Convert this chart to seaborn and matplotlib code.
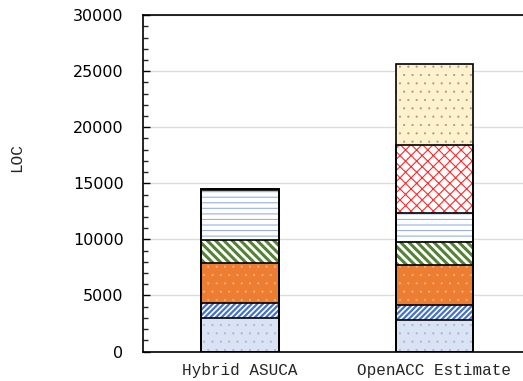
import matplotlib
matplotlib.use("Agg")
import matplotlib.pyplot as plt
from matplotlib.ticker import MultipleLocator
import numpy as np
import pandas as pd
import seaborn as sns

programs = ["Hybrid ASUCA", "OpenACC Estimate"]

# lines of code per component, bottom to top of each stack
base_loc = [3000, 2770]
blue_diag_loc = [1350, 1400]
orange_loc = [3550, 3510]
green_diag_loc = [2050, 2080]
dashed_loc = [4450, 2590]
red_lattice_loc = [80, 6050]
beige_loc = [0, 7200]

yticks = [0, 5000, 10000, 15000, 20000, 25000, 30000]

# (values, facecolor, hatch, hatch colour, hatch linewidth)
layers = [
    (base_loc, "#dae3f3", "..", "#9fb5e0", 0.3),
    (blue_diag_loc, "white", "//////", "#4472c4", 1.6),
    (orange_loc, "#ed7d31", "..", "#f4b086", 0.3),
    (green_diag_loc, "white", "\\\\\\\\", "#548235", 2.2),
    (dashed_loc, "white", "---", "#9ab0e0", 0.8),
    (red_lattice_loc, "white", "xxx", "#ff2a2a", 0.8),
    (beige_loc, "#fff2cc", "..", "#a8997a", 0.3),
]

sns.set_style("ticks")
plt.rcParams["font.family"] = ["DejaVu Sans"]

fig = plt.figure(figsize=(5.23, 3.81), dpi=100)
ax = fig.add_axes([0.2734, 0.0774, 0.743, 0.883])

stack = np.cumsum([l[0] for l in layers], axis=0)

# draw the tallest cumulative bar first, lower ones cover it
for i in reversed(range(len(layers))):
    vals, face, hatch, hcol, hlw = layers[i]
    d = pd.DataFrame({"program": programs, "loc": stack[i]})
    with plt.rc_context({"hatch.linewidth": hlw}):
        sns.barplot(data=d, x="program", y="loc", color=face, saturation=1,
                    width=0.4, hatch=hatch, edgecolor=hcol, linewidth=0,
                    errorbar=None, ax=ax, zorder=2)
        for p in ax.patches[-2:]:
            if hasattr(p, "set_hatch_linewidth"):
                p.set_hatch_linewidth(hlw)

for i in reversed(range(len(layers))):
    d = pd.DataFrame({"program": programs, "loc": stack[i]})
    sns.barplot(data=d, x="program", y="loc", color="black", fill=False,
                width=0.4, linewidth=1.2, errorbar=None, ax=ax, zorder=3)

ax.set_xlim(-0.5, 1.5)
ax.set_ylim(0, 30000)
ax.set_yticks(yticks)
ax.yaxis.set_minor_locator(MultipleLocator(1000))
ax.yaxis.grid(True, color="#dcdcdc", linewidth=1)
ax.set_axisbelow(True)

ax.tick_params(axis="y", which="major", direction="in", length=5, width=1,
               pad=14, labelsize=11.5, colors="black")
ax.tick_params(axis="y", which="minor", direction="in", length=3.6, width=1)
ax.tick_params(axis="x", direction="in", length=0, pad=8)
for lab in ax.get_xticklabels():
    lab.set_family("Liberation Mono")
    lab.set_fontsize(11.5)

for s in ["top", "left", "bottom"]:
    ax.spines[s].set_color("black")
    ax.spines[s].set_linewidth(1.2)
ax.spines["right"].set_visible(False)

ax.set_xlabel("")
ax.set_ylabel("")
fig.text(17 / 523, 1 - 157.7 / 381, "LOC", rotation=90, ha="center",
         va="center", family="Liberation Mono", fontsize=11.5)

fig.savefig("out.png", dpi=100)
